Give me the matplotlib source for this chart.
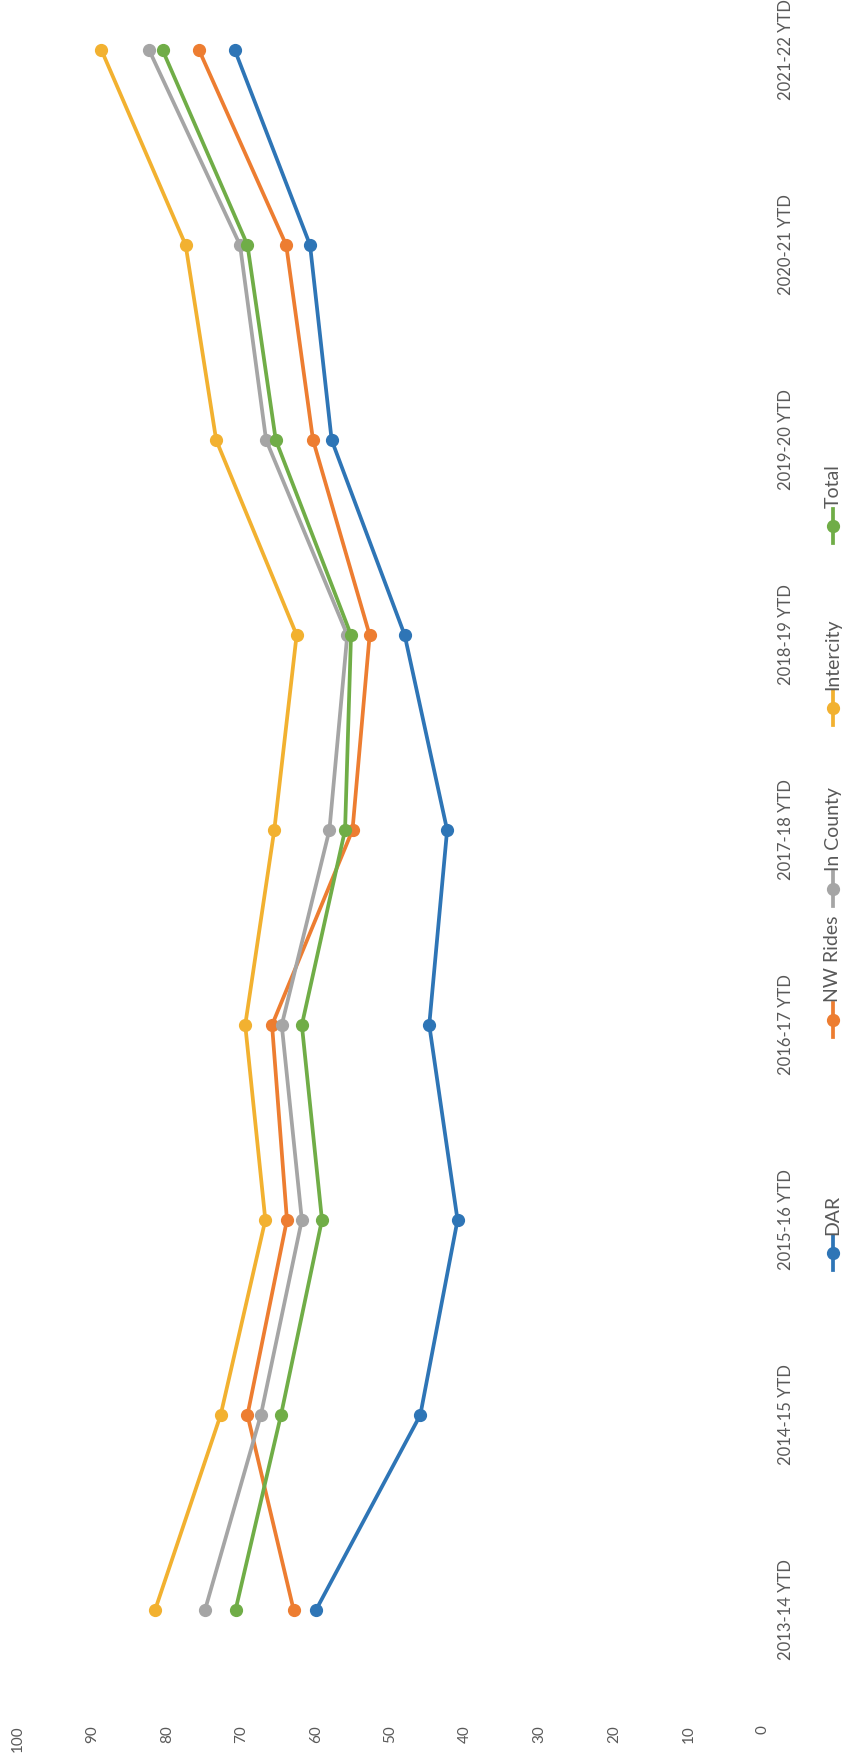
import matplotlib.pyplot as plt
from matplotlib.lines import Line2D

plt.rcParams['font.family'] = ['Lato', 'DejaVu Sans']

# data
years = ['2013-14 YTD', '2014-15 YTD', '2015-16 YTD', '2016-17 YTD', '2017-18 YTD',
         '2018-19 YTD', '2019-20 YTD', '2020-21 YTD', '2021-22 YTD']
dar = [60.0, 46.0, 41.0, 44.8, 42.4, 48.1, 57.9, 60.8, 70.9]
nw_rides = [63.0, 69.2, 63.9, 65.9, 55.1, 52.8, 60.4, 64.0, 75.7]
in_county = [74.9, 67.4, 61.9, 64.6, 58.2, 55.8, 66.7, 70.2, 82.4]
intercity = [81.6, 72.8, 66.8, 69.5, 65.6, 62.6, 73.4, 77.5, 88.8]
total = [70.8, 64.7, 59.2, 61.9, 56.1, 55.3, 65.4, 69.2, 80.6]
value_ticks = [0, 10, 20, 30, 40, 50, 60, 70, 80, 90, 100]

series = [('DAR', dar, '#2E75B6'),
          ('NW Rides', nw_rides, '#ED7D31'),
          ('In County', in_county, '#A5A5A5'),
          ('Intercity', intercity, '#F2B130'),
          ('Total', total, '#70AD47')]

W, H = 851, 1764
fig = plt.figure(figsize=(W / 100, H / 100), dpi=100)
ax = fig.add_axes([18 / W, 46 / H, (763 - 18) / W, (1718 - 20) / H])

pos = list(range(len(years)))
# chart is drawn turned on its side: values run right-to-left, years bottom-to-top
for name, vals, col in series:
    ax.plot(vals, pos, color=col, lw=2.7, marker='o', ms=8.5, solid_capstyle='round')

ax.set_xlim(100, 0)
ax.set_ylim(-0.554, 8.154)
for s in ax.spines.values():
    s.set_visible(False)

ax.set_xticks(value_ticks)
ax.set_xticklabels([str(v) for v in value_ticks], rotation=90, fontsize=11, color='#595959')
ax.tick_params(axis='x', length=0, pad=5)

ax.yaxis.tick_right()
ax.set_yticks(pos)
ax.set_yticklabels(years, rotation=90, fontsize=12, color='#595959', va='center')
ax.tick_params(axis='y', length=0, pad=11)

# legend, turned like the rest
leg_x = 833 / W
leg_centers = [1253, 1020, 889, 708, 526]
for (name, vals, col), yc in zip(series, leg_centers):
    y0 = 1 - (yc + 17) / H
    y1 = 1 - (yc - 17) / H
    fig.add_artist(Line2D([leg_x, leg_x], [y0, y1], transform=fig.transFigure,
                          color=col, lw=2.7))
    fig.add_artist(Line2D([leg_x], [1 - yc / H], transform=fig.transFigure,
                          color=col, marker='o', ms=8.5))
    fig.text(leg_x, y1 + 1 / H, name, rotation=90, ha='center', va='bottom',
             fontsize=14, color='#595959')

fig.savefig('out.png', dpi=100)
